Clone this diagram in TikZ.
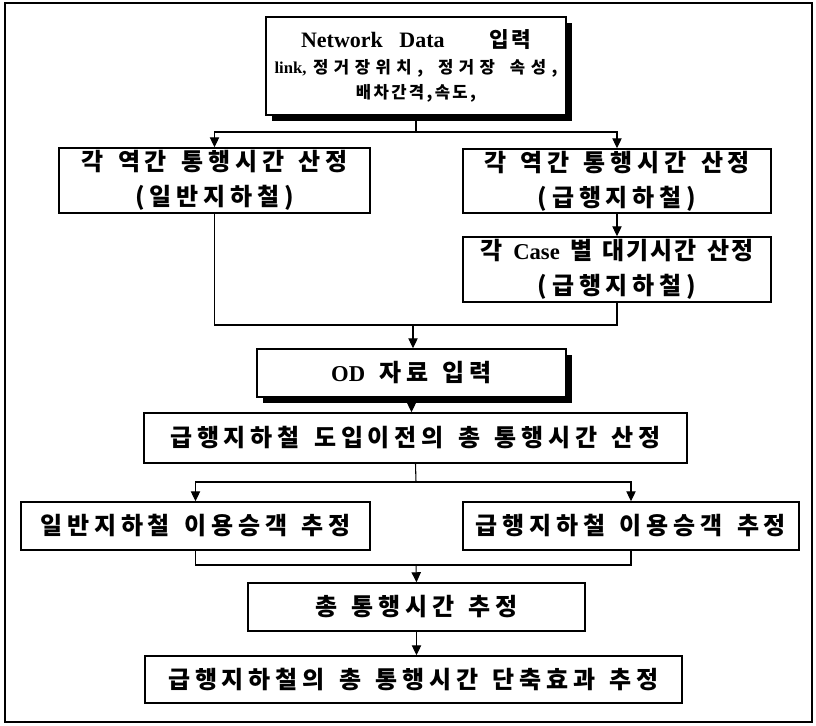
\documentclass[tikz,border=0pt]{standalone}
\usepackage{fontspec}
\setmainfont{Liberation Serif}
\newfontfamily\kr[LetterSpace=20,WordSpace=1.4]{Noto Sans CJK KR}
\newfontfamily\krs[LetterSpace=33,WordSpace=1.6]{Noto Sans CJK KR}
\newfontfamily\krl[LetterSpace=14,WordSpace=1.4]{Noto Sans CJK KR}
\newfontfamily\krt[LetterSpace=8,WordSpace=1.4]{Noto Sans CJK KR}
\usetikzlibrary{arrows.meta,shadows}
\newcommand\kmain{\kr\bfseries\fontsize{18}{26}\selectfont}
\newcommand\latb[1]{{\rmfamily\bfseries\fontsize{17}{26}\selectfont #1}}
\tikzset{
  box/.style={draw, line width=1.1pt, fill=white, inner sep=0pt, align=center, font=\kmain},
  shad/.style={drop shadow={fill=black, opacity=1, shadow xshift=4.5pt, shadow yshift=-4.5pt}},
  arr/.style={-{Triangle[length=7.5pt,width=7pt]}, line width=0.8pt},
  ln/.style={line width=0.8pt},
}
\begin{document}
\begin{tikzpicture}[x=0.75pt,y=-0.75pt]
\useasboundingbox (0,0) rectangle (816,725);
\draw[line width=1.1pt] (5,3) rectangle (812,722);

\node[box, shad, minimum width=225pt, minimum height=73.5pt,
      font=\kr\bfseries\fontsize{14}{19}\selectfont] (top) at (416,66)
  {{\rmfamily\bfseries\fontsize{16.5}{19}\selectfont Network\ \ \ Data\hspace{34pt}}{\krt\bfseries\fontsize{16}{19}\selectfont 입력}\\
   {\rmfamily\bfseries\fontsize{12.5}{19}\selectfont link,}\hspace{5pt}{\krs\bfseries\fontsize{12.5}{19}\selectfont 정거장위치, 정거장 속성,}\\
   {\krl\bfseries\fontsize{12.5}{19}\selectfont 배차간격,속도,}};

\node[box, minimum width=233.25pt, minimum height=48.75pt] (L2) at (214.5,180.5)
  {각 역간 통행시간 산정\\(일반지하철)};
\node[box, minimum width=231pt, minimum height=48pt] (R2) at (617,181)
  {각 역간 통행시간 산정\\(급행지하철)};
\node[box, minimum width=231pt, minimum height=48.75pt] (Case) at (617,269.5)
  {{\krt 각 \latb{Case} 별 대기시간 산정}\\(급행지하철)};
\node[box, shad, minimum width=231.75pt, minimum height=36pt] (OD) at (411.5,373)
  {\latb{OD} 자료 입력};
\node[box, minimum width=407.25pt, minimum height=37.5pt] (Pre) at (415.5,438)
  {급행지하철 도입이전의 총 통행시간 산정};
\node[box, minimum width=261.75pt, minimum height=36pt] (L3) at (195.5,526)
  {일반지하철 이용승객 추정};
\node[box, minimum width=252pt, minimum height=36pt] (R3) at (631,526)
  {급행지하철 이용승객 추정};
\node[box, minimum width=252.75pt, minimum height=36pt] (Tot) at (416.5,607)
  {총 통행시간 추정};
\node[box, minimum width=402.75pt, minimum height=35.25pt] (Fin) at (413.5,679.5)
  {급행지하철의 총 통행시간 단축효과 추정};

\coordinate (j1) at (416,132);
\coordinate (j2) at (413,325);
\coordinate (j3) at (416,482);
\coordinate (j4) at (416,565);

\draw[ln] (top.south) -- (j1);
\draw[arr] (j1) -| (L2.north);
\draw[arr] (j1) -| (R2.north);
\draw[arr] (R2.south) -- (Case.north);
\draw[ln] (L2.south) |- (j2) -| (Case.south);
\draw[arr] (j2) -- (j2 |- OD.north);
\draw[arr] (OD.south) -- (OD.south |- Pre.north);
\draw[ln] (Pre.south) -- (j3);
\draw[arr] (j3) -| (L3.north);
\draw[arr] (j3) -| (R3.north);
\draw[ln] (L3.south) |- (j4) -| (R3.south);
\draw[arr] (j4) -- (Tot.north);
\draw[arr] (Tot.south) -- (Tot.south |- Fin.north);
\end{tikzpicture}
\end{document}
